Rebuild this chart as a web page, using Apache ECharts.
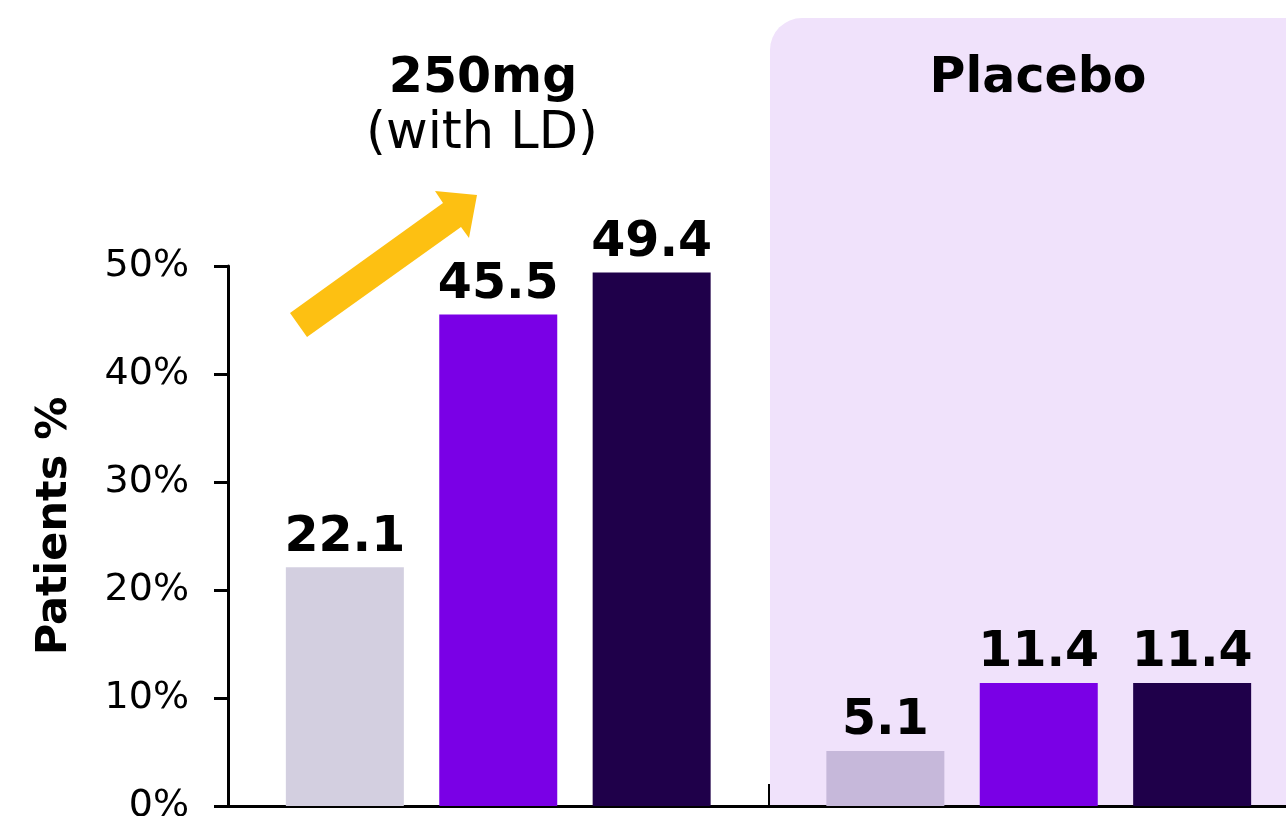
<!DOCTYPE html>
<html>
<head>
<meta charset="utf-8">
<style>
  html, body { margin: 0; padding: 0; background: #fff; overflow: hidden; }
  #chart { width: 1286px; height: 816px; }
</style>
<script src="https://cdn.jsdelivr.net/npm/echarts@6/dist/echarts.min.js"></script>
</head>
<body>
<div id="chart"></div>
<script>
// ---- Data ----
const categories = ['250mg', 'Placebo'];
const seriesNames = ['Series A', 'Series B', 'Series C'];
const seriesA = [22.1, 5.1];
const seriesB = [45.5, 11.4];
const seriesC = [49.4, 11.4];
const yTicks = [0, 10, 20, 30, 40, 50];

// ---- Styles ----
const FONT = 'DejaVu Sans';
const colorA = ['#D3CFE0', '#C6B8DA'];
const colorB = '#7A00E6';
const colorC = '#1F004A';

const chart = echarts.init(document.getElementById('chart'), null, { renderer: 'canvas' });

const labelStyle = {
  show: true,
  position: 'top',
  distance: 5,
  fontFamily: FONT,
  fontSize: 49,
  fontWeight: 'bold',
  color: '#000',
  formatter: p => p.value.toFixed(1)
};

const option = {
  animation: false,
  backgroundColor: '#fff',
  grid: { left: 228, top: 266, width: 1081, height: 540, containLabel: false, outerBoundsMode: 'none' },
  xAxis: {
    type: 'category',
    data: categories,
    axisLine: { show: true, lineStyle: { color: '#000', width: 3 } },
    axisTick: { show: true, inside: true, length: 22, lineStyle: { color: '#000', width: 2 } },
    axisLabel: { show: false },
    splitLine: { show: false }
  },
  yAxis: {
    type: 'value',
    min: yTicks[0],
    max: yTicks[yTicks.length - 1],
    interval: 10,
    name: 'Patients %',
    nameLocation: 'middle',
    nameGap: 152,
    nameTextStyle: { fontFamily: FONT, fontSize: 43, fontWeight: 'bold', color: '#000', padding: [0, 0, 0, 20] },
    axisLine: { show: true, lineStyle: { color: '#000', width: 3 } },
    axisTick: { show: true, length: 14, lineStyle: { color: '#000', width: 3 } },
    axisLabel: { fontFamily: FONT, fontSize: 38, color: '#000', margin: 39, formatter: '{value}%' },
    splitLine: { show: false }
  },
  graphic: {
    elements: [
      {
        type: 'rect', z: -10, silent: true,
        shape: { x: 770, y: 18, width: 560, height: 788, r: [32, 32, 0, 0] },
        style: { fill: '#F0E2FB' }
      },
      {
        type: 'polygon', z: 10, silent: true,
        shape: { points: [[290, 313], [443, 203], [435, 191], [477, 195], [469, 238], [461, 227], [307, 337]] },
        style: { fill: '#FDC012' }
      },
      {
        type: 'text', z: 10, x: 483, y: 79,
        style: { text: '250mg', fontFamily: FONT, fontSize: 49, fontWeight: 'bold', fill: '#000', textAlign: 'center', textVerticalAlign: 'middle' }
      },
      {
        type: 'text', z: 10, x: 482, y: 135,
        style: { text: '(with LD)', fontFamily: FONT, fontSize: 51, fill: '#000', textAlign: 'center', textVerticalAlign: 'middle' }
      },
      {
        type: 'text', z: 10, x: 1038, y: 79,
        style: { text: 'Placebo', fontFamily: FONT, fontSize: 49, fontWeight: 'bold', fill: '#000', textAlign: 'center', textVerticalAlign: 'middle' }
      }
    ]
  },
  series: [
    {
      name: seriesNames[0], type: 'bar', barWidth: 118, barGap: '30%',
      data: seriesA.map((v, i) => ({ value: v, itemStyle: { color: colorA[i] } })),
      label: labelStyle
    },
    {
      name: seriesNames[1], type: 'bar', barWidth: 118, barGap: '30%',
      data: seriesB, itemStyle: { color: colorB },
      label: labelStyle
    },
    {
      name: seriesNames[2], type: 'bar', barWidth: 118, barGap: '30%',
      data: seriesC, itemStyle: { color: colorC },
      label: labelStyle
    }
  ]
};

chart.setOption(option);
</script>
</body>
</html>
